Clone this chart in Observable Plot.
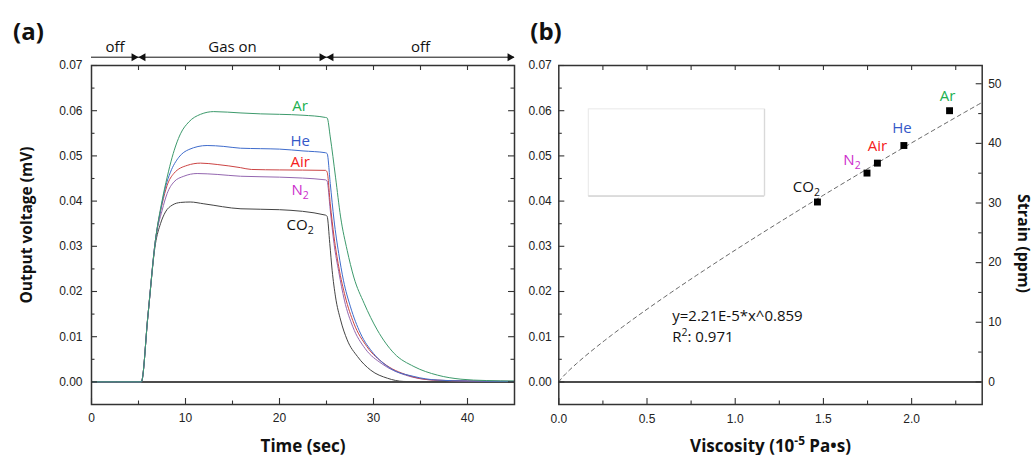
<!DOCTYPE html>
<html>
<head>
<meta charset="utf-8">
<script src="https://cdn.jsdelivr.net/npm/d3@7"></script>
<script src="https://cdn.jsdelivr.net/npm/@observablehq/plot@0.6"></script>
<style>
  body { margin: 0; background: #fff; }
  #row { display: flex; width: 1035px; height: 455px; }
  #row svg { display: block; overflow: visible; }
</style>
</head>
<body>
<div id="row"></div>
<script>
// ---------- data ----------
const gases = ["Ar", "He", "Air", "N₂", "CO₂"];
const lineColors = ["#3d9a6c", "#3f6ccc", "#cc4444", "#9467b0", "#444444"];
const labelColors = ["#20b050", "#3558c8", "#f52020", "#cc2ecc", "#111111"];

// output voltage (mV) vs time (sec), one trace per gas
const timeAr = [0, 5.3, 6.0, 6.8, 7.52, 8.05, 8.58, 9.47, 10.35, 11.6, 13.0, 15.9, 18.0, 20.0, 22.5, 24.9, 25.07, 25.4, 25.96, 26.5, 27.2, 27.9, 29.0, 30.4, 32.2, 34.3, 36.8, 39.3, 42.0, 45];
const voltAr = [0, 0, 0.0146, 0.0313, 0.0402, 0.0453, 0.0497, 0.0549, 0.0575, 0.0592, 0.0598, 0.0595, 0.0593, 0.0592, 0.0590, 0.0585, 0.0584, 0.0542, 0.0453, 0.0365, 0.0291, 0.0232, 0.0174, 0.0115, 0.0063, 0.0034, 0.0015, 0.0006, 0.0003, 0.0002];

const timeHe = [0, 5.3, 6.0, 6.8, 7.4, 7.87, 8.4, 9.29, 10.35, 12.3, 14.07, 15.85, 18.0, 20.0, 22.5, 24.9, 25.07, 25.4, 25.8, 26.3, 26.8, 27.55, 28.6, 30.0, 31.8, 34.3, 36.8, 40, 45];
const voltHe = [0, 0, 0.0146, 0.0313, 0.0385, 0.0431, 0.0464, 0.0497, 0.0514, 0.0523, 0.0521, 0.0517, 0.0516, 0.0515, 0.0511, 0.0507, 0.0505, 0.0439, 0.0358, 0.0284, 0.0225, 0.0166, 0.0108, 0.0063, 0.0030, 0.0012, 0.0004, 0.0002, 0.0001];

const timeAir = [0, 5.3, 6.0, 6.8, 7.52, 8.05, 8.75, 10.18, 11.6, 13.37, 15.85, 17.0, 20.0, 24.9, 25.07, 25.4, 25.8, 26.3, 27.0, 27.9, 29.3, 31.1, 33.6, 36.4, 40, 45];
const voltAir = [0, 0, 0.0146, 0.0313, 0.0394, 0.0435, 0.0461, 0.0479, 0.0484, 0.0481, 0.0474, 0.0470, 0.0469, 0.0468, 0.0464, 0.0394, 0.0321, 0.0255, 0.0188, 0.0130, 0.0078, 0.0041, 0.0015, 0.0004, 0.0002, 0.0001];

const timeN2 = [0, 5.3, 6.0, 6.8, 7.52, 8.05, 8.75, 9.82, 11.24, 13.37, 15.85, 20.0, 24.9, 25.07, 25.4, 25.8, 26.3, 26.9, 27.8, 29.1, 30.9, 33.4, 36.4, 40, 45];
const voltN2 = [0, 0, 0.0146, 0.0313, 0.0380, 0.0417, 0.0442, 0.0455, 0.0461, 0.0459, 0.0455, 0.0453, 0.0447, 0.0444, 0.0380, 0.0306, 0.0244, 0.0181, 0.0122, 0.0074, 0.0040, 0.0015, 0.0004, 0.0002, 0.0001];

const timeCO2 = [0, 5.3, 6.0, 6.8, 7.34, 7.87, 8.58, 9.47, 10.5, 11.95, 15.9, 20.0, 24.9, 25.07, 25.35, 25.6, 25.96, 26.5, 27.2, 28.3, 29.7, 31.5, 33.2, 36, 45];
const voltCO2 = [0, 0, 0.0146, 0.0305, 0.0350, 0.0376, 0.0391, 0.0397, 0.0398, 0.0394, 0.0383, 0.0381, 0.0369, 0.0366, 0.0306, 0.0247, 0.0188, 0.0137, 0.0093, 0.0056, 0.0026, 0.0008, 0.0001, 0, 0];

// gas flow phases
const phaseStart = [0, 5, 25];
const phaseEnd = [5, 25, 45];
const phaseLabel = ["off", "Gas on", "off"];

// peak output vs gas viscosity (same gas order as above)
const viscosity = [2.215, 1.956, 1.806, 1.747, 1.466];
const peakVoltage = [0.0600, 0.0523, 0.0484, 0.0462, 0.0398];

// power-law fit of strain vs viscosity
const fitCoef = 2.21e-5;
const fitExp = 0.859;
const fitR2 = 0.971;
const ppmPerMV = 758; // strain (ppm) per mV of output

// tick values
const timeTicks = [0, 10, 20, 30, 40];
const voltTicks = [0, 0.01, 0.02, 0.03, 0.04, 0.05, 0.06, 0.07];
const viscTicks = [0, 0.5, 1.0, 1.5, 2.0];
const strainTicks = [0, 10, 20, 30, 40, 50];

// ---------- tables ----------
const traceTimes = [timeAr, timeHe, timeAir, timeN2, timeCO2];
const traceVolts = [voltAr, voltHe, voltAir, voltN2, voltCO2];
const traces = gases.map((gas, k) => ({
  gas, color: lineColors[k],
  rows: traceTimes[k].map((t, i) => ({t, v: traceVolts[k][i]}))
}));
const phases = phaseLabel.map((label, i) => ({label, start: phaseStart[i], end: phaseEnd[i]}));
const points = gases.map((gas, i) => ({gas, x: viscosity[i], v: peakVoltage[i], color: labelColors[i]}));
const fitCurve = d3.range(0, 2.4001, 0.02).map(x => ({x, v: fitCoef * 1e6 * Math.pow(x, fitExp) / ppmPerMV}));
const fitText = `y=${fitCoef.toExponential(2).replace("e", "E")}*x^${fitExp}\nR²: ${fitR2}`;

// ---------- layout ----------
const H = 455, MT = 65, MB = 51;
const innerH = H - MT - MB;
const WA = 520, MLA = 91, MRA = 6, innerWA = WA - MLA - MRA;
const WB = 515, MLB = 38.3, MRB = 53.3, innerWB = WB - MLB - MRB;
const voltDomain = [-0.005, 0.07];

const TICK_FONT = "'Liberation Sans', Arial, sans-serif";
const TEXT_FONT = "'Open Sans', sans-serif";
const INK = "#222";
const title = {fontFamily: TEXT_FONT, fontWeight: "bold", fill: "#111", lineAnchor: "middle", text: d => d};

// inward ticks on all four sides of the box
function boxTicks({xMajor, xMinor, xTop, yMajor, yMinor, rMajor, rMinor, innerW}) {
  const M = 6, m = 3.5, T = 5, s = {stroke: "#333", strokeWidth: 1.1};
  return [
    Plot.tickX(xMajor, {x: d => d, insetTop: innerH - M, ...s}),
    Plot.tickX(xMinor, {x: d => d, insetTop: innerH - m, ...s}),
    Plot.tickX(xTop, {x: d => d, insetBottom: innerH - T, ...s}),
    Plot.tickY(yMajor, {y: d => d, insetRight: innerW - M, ...s}),
    Plot.tickY(yMinor, {y: d => d, insetRight: innerW - m, ...s}),
    Plot.tickY(rMajor, {y: d => d, insetLeft: innerW - M, ...s}),
    Plot.tickY(rMinor, {y: d => d, insetLeft: innerW - m, ...s})
  ];
}
const voltMinor = d3.range(0.005, 0.07, 0.01);

// ---------- panel (a): output voltage vs time ----------
const labelShiftA = {"Ar": -5, "He": -4.5, "Air": -1, "N₂": 17, "CO₂": 23.5};
const plotA = Plot.plot({
  width: WA, height: H,
  marginTop: MT, marginBottom: MB, marginLeft: MLA, marginRight: MRA,
  x: {domain: [0, 45]},
  y: {domain: voltDomain},
  style: {fontFamily: TICK_FONT, fontSize: "12px", color: INK, background: "transparent", overflow: "visible"},
  marks: [
    Plot.ruleY([0], {stroke: "#111", strokeWidth: 1.5}),
    ...traces.slice().reverse().map(tr =>
      Plot.line(tr.rows, {x: "t", y: "v", stroke: tr.color, strokeWidth: 1, curve: "monotone-x"})),
    Plot.text(points, {
      x: () => 22.2, y: "v", text: "gas", fill: "color",
      fontFamily: TEXT_FONT, fontSize: 15
    }),
    Plot.frame({stroke: "#333", strokeWidth: 1.5}),
    ...boxTicks({
      xMajor: timeTicks, xMinor: [5, 15, 25, 35], xTop: d3.range(5, 45, 5),
      yMajor: voltTicks, yMinor: voltMinor, rMajor: voltTicks, rMinor: voltMinor, innerW: innerWA
    }),
    Plot.axisX(timeTicks, {tickSize: 0, tickPadding: 9, tickFormat: d => d, label: null}),
    Plot.axisY(voltTicks, {anchor: "left", tickSize: 0, tickPadding: 9, tickFormat: d3.format(".2f"), label: null}),
    // gas on / off phases above the box
    Plot.ruleY(phases, {x1: "start", x2: "end", y: () => voltDomain[1], dy: -8.3, stroke: "#111", strokeWidth: 1}),
    Plot.dot(phases, {x: "end", frameAnchor: "top", dy: -8.3, dx: -4.6, symbol: "triangle", rotate: 90, r: 3, fill: "#111", stroke: "none"}),
    Plot.dot(phases.filter(p => p.start > 0), {x: "start", frameAnchor: "top", dy: -8.3, dx: 4.6, symbol: "triangle", rotate: -90, r: 3, fill: "#111", stroke: "none"}),
    Plot.text(phases, {x: d => (d.start + d.end) / 2, text: "label", frameAnchor: "top", lineAnchor: "middle", dy: -18.3, fontFamily: TEXT_FONT, fontSize: 15, fill: "#111"}),
    // titles
    Plot.text(["(a)"], {...title, frameAnchor: "top-left", textAnchor: "start", dx: -78.5, dy: -33, fontSize: 24}),
    Plot.text(["Time (sec)"], {...title, frameAnchor: "bottom", textAnchor: "middle", dy: 42, fontSize: 17}),
    Plot.text(["Output voltage (mV)"], {...title, frameAnchor: "left", textAnchor: "middle", rotate: -90, dx: -64, dy: -10, fontSize: 15.5})
  ]
});

// ---------- panel (b): peak output vs viscosity ----------
const labelOffB = {"Ar": [-2, -15], "He": [-2, -17], "Air": [0, -17], "N₂": [-15, -13], "CO₂": [-11, -15]};
const strainMinor = d3.range(5, 50, 10).map(s => s / ppmPerMV);
const plotB = Plot.plot({
  width: WB, height: H,
  marginTop: MT, marginBottom: MB, marginLeft: MLB, marginRight: MRB,
  x: {domain: [0, 2.4]},
  y: {domain: voltDomain},
  style: {fontFamily: TICK_FONT, fontSize: "12px", color: INK, background: "transparent", overflow: "visible"},
  marks: [
    // empty key box
    Plot.rect([0], {x1: 0.17, x2: 1.167, y1: 0.0411, y2: 0.0603, fill: "#fff", stroke: "#e8e8e8", strokeWidth: 1}),
    Plot.ruleY([0.0411], {x1: 0.17, x2: 1.167, stroke: "#c8c8c8", strokeWidth: 1}),
    Plot.ruleX([1.167], {y1: 0.0411, y2: 0.0603, stroke: "#d4d4d4", strokeWidth: 1}),
    Plot.ruleY([0], {stroke: "#111", strokeWidth: 1.5}),
    Plot.line(fitCurve, {x: "x", y: "v", stroke: "#555", strokeWidth: 0.9, strokeDasharray: "4,3.5"}),
    Plot.dot(points, {x: "x", y: "v", symbol: "square", r: 3.9, fill: "#000", stroke: "none"}),
    ...points.map(p => Plot.text([p], {
      x: "x", y: "v", text: "gas", fill: p.color,
      dx: labelOffB[p.gas][0], dy: labelOffB[p.gas][1],
      fontFamily: TEXT_FONT, fontSize: 15
    })),
    Plot.text([fitText], {x: () => 0.643, y: () => 0.0127, text: d => d, textAnchor: "start", lineHeight: 1.4, fontFamily: TEXT_FONT, fontSize: 15, fill: "#111"}),
    Plot.frame({stroke: "#333", strokeWidth: 1.5}),
    ...boxTicks({
      xMajor: viscTicks, xMinor: [0.25, 0.75, 1.25, 1.75, 2.25], xTop: d3.range(0.25, 2.4, 0.25),
      yMajor: voltTicks, yMinor: voltMinor, rMajor: strainTicks.map(s => s / ppmPerMV), rMinor: strainMinor, innerW: innerWB
    }),
    Plot.axisX(viscTicks, {tickSize: 0, tickPadding: 10, tickFormat: d3.format(".1f"), label: null}),
    Plot.axisY(voltTicks, {anchor: "left", tickSize: 0, tickPadding: 7, tickFormat: d3.format(".2f"), label: null}),
    Plot.axisY(strainTicks.map(s => s / ppmPerMV), {anchor: "right", tickSize: 0, tickPadding: 6, tickFormat: d => Math.round(d * ppmPerMV), label: null}),
    Plot.text(["(b)"], {...title, frameAnchor: "top-left", textAnchor: "start", dx: -28.5, dy: -33, fontSize: 24}),
    Plot.text(["Viscosity (10⁻⁵ Pa•s)"], {...title, frameAnchor: "bottom", textAnchor: "middle", dy: 42, fontSize: 17}),
    Plot.text(["Strain (ppm)"], {...title, frameAnchor: "right", textAnchor: "middle", rotate: 90, dx: 41, dy: 8.5, fontSize: 16})
  ]
});

// sub- and superscript glyphs become shifted tspans
const SUP = {"⁻": "-", "⁵": "5", "²": "2"};
const SUB = {"₂": "2"};
function richText(svg) {
  d3.select(svg).selectAll("text, tspan").each(function() {
    if (this.childNodes.length !== 1 || this.firstChild.nodeType !== 3) return;
    const s = this.textContent;
    if (!/[⁻⁵²₂]/.test(s)) return;
    const runs = [];
    for (const ch of s) {
      const kind = SUP[ch] ? "sup" : SUB[ch] ? "sub" : "base";
      const c = SUP[ch] || SUB[ch] || ch;
      if (runs.length && runs[runs.length - 1].kind === kind) runs[runs.length - 1].text += c;
      else runs.push({kind, text: c});
    }
    this.textContent = "";
    for (const r of runs) {
      const t = d3.select(this).append("tspan").text(r.text);
      if (r.kind === "sup") t.attr("font-size", "0.7em").attr("baseline-shift", "0.55em");
      if (r.kind === "sub") t.attr("font-size", "0.7em").attr("baseline-shift", "-0.35em");
    }
  });
}

// panel (a) gas labels sit just off their trace
d3.select(plotA).selectAll("text")
  .filter(function() { return labelShiftA[this.textContent] !== undefined; })
  .attr("dy", function() { return labelShiftA[this.textContent]; });

richText(plotA);
richText(plotB);
document.getElementById("row").append(plotA, plotB);
</script>
</body>
</html>
